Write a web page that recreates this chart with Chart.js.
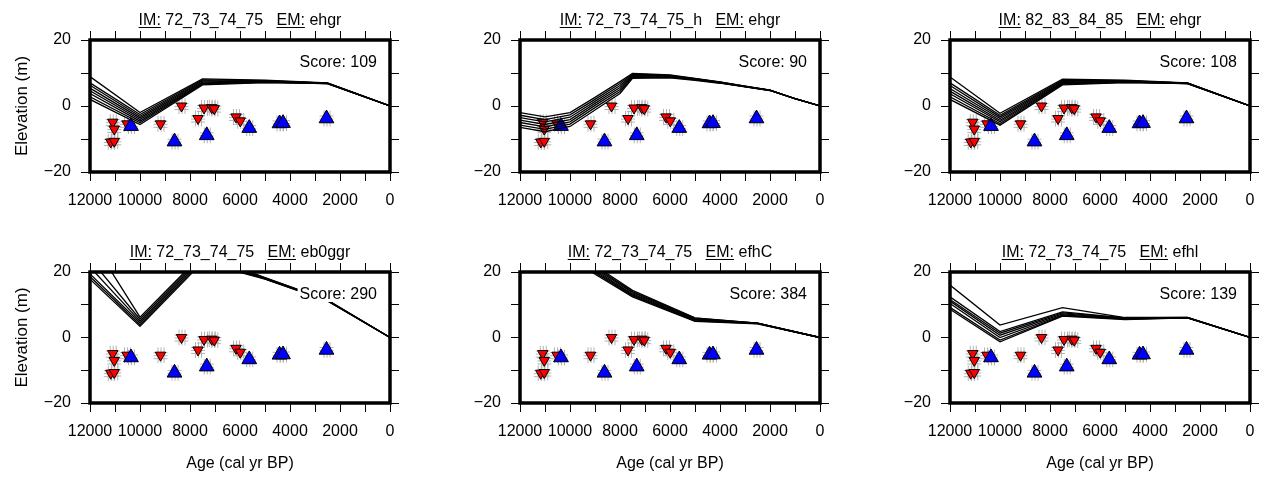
<!DOCTYPE html>
<html>
<head>
<meta charset="utf-8">
<script src="https://cdn.jsdelivr.net/npm/chart.js@4.4.0/dist/chart.umd.min.js"></script>
<style>
  body { margin: 0; background: #fff; width: 1266px; height: 477px; position: relative; overflow: hidden; }
  canvas { position: absolute; }
</style>
</head>
<body>
<canvas id="p0"></canvas>
<canvas id="p1"></canvas>
<canvas id="p2"></canvas>
<canvas id="p3"></canvas>
<canvas id="p4"></canvas>
<canvas id="p5"></canvas>
<script>
// observed sea-level points, the same in every panel
const fallAges = [11090, 11030, 11170, 11030, 10520, 9180, 8340, 7680, 7440, 7130, 7030, 6160, 5990];
const fallElev = [-4.9, -7.0, -10.9, -10.7, -5.4, -5.4, 0.0, -3.8, -0.6, -0.5, -0.8, -3.3, -4.5];
const riseAges = [10360, 8620, 7330, 5630, 4420, 4280, 2540];
const riseElev = [-6.1, -10.8, -8.9, -6.7, -5.3, -5.2, -3.8];
const ageErr = 280;
const elevErr = 2.4;

// panel labels
const panelIM = ['72_73_74_75', '72_73_74_75_h', '82_83_84_85', '72_73_74_75', '72_73_74_75', '72_73_74_75'];
const panelEM = ['ehgr', 'ehgr', 'ehgr', 'eb0ggr', 'efhC', 'efhl'];
const panelScore = [109, 90, 108, 290, 384, 139];

// model ages
const modelAges = [12000, 10000, 7500, 5000, 2500, 0];
const modelAgesFine = [12000, 11000, 10000, 9000, 8000, 7500, 6000, 5000, 4000, 3000, 2000, 1000, 0];

// model curves (one row per curve)
const curvesA = [
  [8.9, -2.0, 8.2, 7.8, 7.0, 0],
  [7.0, -2.6, 7.9, 7.7, 6.95, 0],
  [6.3, -3.1, 7.6, 7.6, 6.9, 0],
  [5.4, -3.6, 7.3, 7.5, 6.9, 0],
  [4.6, -4.1, 7.0, 7.4, 6.85, 0],
  [3.8, -4.6, 6.8, 7.3, 6.8, 0],
  [2.8, -5.1, 6.6, 7.2, 6.8, 0],
  [2.0, -5.6, 6.4, 7.1, 6.75, 0]
];
const curvesB = [
  [-2.0, -3.3, -2.0, 2.6, 7.4, 9.9, 9.4, 8.4, 7.3, 6.0, 4.8, 2.2, 0],
  [-2.8, -4.1, -2.7, 2.0, 6.8, 9.7, 9.3, 8.3, 7.25, 6.0, 4.8, 2.2, 0],
  [-3.5, -4.8, -3.4, 1.4, 6.2, 9.4, 9.1, 8.2, 7.2, 5.95, 4.8, 2.2, 0],
  [-4.3, -5.6, -4.1, 0.8, 5.6, 9.2, 9.0, 8.1, 7.1, 5.9, 4.75, 2.2, 0],
  [-5.0, -6.3, -4.8, 0.2, 5.0, 8.9, 8.8, 8.0, 7.05, 5.9, 4.75, 2.2, 0],
  [-5.8, -7.1, -5.5, -0.5, 4.4, 8.7, 8.7, 7.9, 7.0, 5.85, 4.7, 2.2, 0],
  [-6.5, -7.8, -6.2, -1.2, 3.8, 8.4, 8.5, 7.8, 6.9, 5.8, 4.7, 2.2, 0]
];
const curvesC = [
  [8.8, -2.2, 8.1, 7.8, 7.0, 0],
  [7.0, -2.8, 7.8, 7.7, 6.95, 0],
  [6.2, -3.3, 7.5, 7.6, 6.9, 0],
  [5.3, -3.8, 7.2, 7.5, 6.9, 0],
  [4.5, -4.3, 7.0, 7.4, 6.85, 0],
  [3.7, -4.8, 6.8, 7.3, 6.8, 0],
  [2.8, -5.3, 6.6, 7.2, 6.8, 0],
  [2.0, -5.8, 6.4, 7.1, 6.75, 0]
];
const curvesD = [
  [17.8, 3.4, 23.0, 17.8, 11.2, 0],
  [18.6, 3.9, 23.5, 17.9, 11.2, 0],
  [19.4, 4.5, 24.0, 18.0, 11.3, 0],
  [21.5, 5.0, 24.5, 18.1, 11.3, 0],
  [24.0, 5.6, 25.0, 18.2, 11.4, 0],
  [30.5, 6.2, 25.5, 18.3, 11.4, 0]
];
const curvesE = [
  [30, 24.0, 12.4, 4.9, 4.2, 0],
  [31, 24.5, 12.7, 5.1, 4.25, 0],
  [32, 25.0, 13.0, 5.3, 4.3, 0],
  [33, 25.5, 13.3, 5.5, 4.3, 0],
  [34, 26.0, 13.7, 5.7, 4.35, 0],
  [35, 26.5, 14.0, 5.9, 4.4, 0],
  [36, 27.0, 14.4, 6.0, 4.4, 0]
];
const curvesF = [
  [16.0, 3.8, 9.1, 6.1, 6.1, 0],
  [12.4, 1.8, 7.8, 6.0, 6.1, 0],
  [11.6, 1.3, 7.5, 5.9, 6.05, 0],
  [11.1, 0.7, 7.2, 5.8, 6.05, 0],
  [10.4, 0.0, 6.9, 5.7, 6.0, 0],
  [9.2, -0.8, 6.7, 5.6, 6.0, 0],
  [8.6, -1.3, 6.5, 5.5, 6.0, 0]
];
const panelCurves = [curvesA, curvesB, curvesC, curvesD, curvesE, curvesF];
const panelCurveAges = [modelAges, modelAgesFine, modelAges, modelAges, modelAges, modelAges];

const FONT = '"Liberation Sans", Arial, Helvetica, sans-serif';

function toPoints(xs, ys) {
  return xs.map((x, i) => ({ x: x, y: ys[i] }));
}

function minusLabel(v) {
  return v < 0 ? '\u2212' + (-v) : String(v);
}

// grey error crosses under the symbols
const errorBars = {
  id: 'errorBars',
  beforeDatasetsDraw(chart) {
    const ctx = chart.ctx, xs = chart.scales.x, ys = chart.scales.y;
    const ages = fallAges.concat(riseAges), elevs = fallElev.concat(riseElev);
    ctx.save();
    ctx.strokeStyle = '#b4b4b4';
    ctx.lineWidth = 1;
    for (let i = 0; i < ages.length; i++) {
      const px = xs.getPixelForValue(ages[i]);
      const py = ys.getPixelForValue(elevs[i]);
      const dx = Math.abs(xs.getPixelForValue(ages[i] + ageErr) - px);
      const dy = Math.abs(ys.getPixelForValue(elevs[i] + elevErr) - py);
      ctx.beginPath();
      [-3, 0, 3].forEach(o => {
        ctx.moveTo(px + o + 0.5, py - dy); ctx.lineTo(px + o + 0.5, py + dy);
        ctx.moveTo(px - dx, py + o + 0.5); ctx.lineTo(px + dx, py + o + 0.5);
      });
      ctx.stroke();
    }
    ctx.restore();
  }
};

// score label with white box, frame and panel title
const decorations = {
  id: 'decorations',
  afterDatasetsDraw(chart, args, opts) {
    const ctx = chart.ctx, a = chart.chartArea;
    ctx.save();
    ctx.font = '16px ' + FONT;
    const txt = 'Score: ' + opts.score;
    const w = ctx.measureText(txt).width;
    const xr = a.right - 13, yb = a.top + 27;
    ctx.fillStyle = '#fff';
    ctx.fillRect(xr - w - 2, yb - 13, w + 4, 16);
    ctx.fillStyle = '#000';
    ctx.textAlign = 'right';
    ctx.textBaseline = 'alphabetic';
    ctx.fillText(txt, xr, yb);
    ctx.restore();
  },
  afterDraw(chart, args, opts) {
    const ctx = chart.ctx, a = chart.chartArea;
    ctx.save();
    ctx.strokeStyle = '#000';
    ctx.lineWidth = 3.5;
    ctx.strokeRect(a.left, a.top, a.right - a.left, a.bottom - a.top);
    // title: underlined keys
    ctx.font = '16px ' + FONT;
    ctx.fillStyle = '#000';
    ctx.textAlign = 'left';
    ctx.textBaseline = 'alphabetic';
    const parts = [['IM:', true], [' ' + opts.im + '   ', false], ['EM:', true], [' ' + opts.em, false]];
    const total = parts.reduce((s, p) => s + ctx.measureText(p[0]).width, 0);
    let x = (a.left + a.right) / 2 - total / 2;
    const y = a.top - 15;
    ctx.lineWidth = 1;
    parts.forEach(p => {
      const pw = ctx.measureText(p[0]).width;
      ctx.fillText(p[0], x, y);
      if (p[1]) {
        ctx.beginPath();
        ctx.moveTo(x, y + 2.5); ctx.lineTo(x + pw, y + 2.5);
        ctx.stroke();
      }
      x += pw;
    });
    ctx.restore();
  }
};

function makePanel(i) {
  const col = i % 3, row = Math.floor(i / 3);
  const canvas = document.getElementById('p' + i);
  const cw = 406, ch = row ? 245 : 217;
  const plotH = row ? 131 : 132;
  canvas.width = cw; canvas.height = ch;
  canvas.style.left = [0, 430, 860][col] + 'px';
  canvas.style.top = [0, 232][row] + 'px';
  canvas.style.width = cw + 'px'; canvas.style.height = ch + 'px';

  const datasets = [];
  panelCurves[i].forEach(c => {
    datasets.push({
      data: toPoints(panelCurveAges[i], c),
      showLine: true, pointRadius: 0, borderColor: '#000', backgroundColor: '#000',
      borderWidth: 1.3, order: 0
    });
  });
  datasets.push({
    data: toPoints(riseAges, riseElev),
    pointStyle: 'triangle', pointRadius: 8.5, backgroundColor: '#0000ff',
    borderColor: '#000', borderWidth: 1, order: 1
  });
  datasets.push({
    data: toPoints(fallAges, fallElev),
    pointStyle: 'triangle', rotation: 180, pointRadius: 6, backgroundColor: '#ff0000',
    borderColor: '#000', borderWidth: 1, order: 2
  });

  const tickFont = { family: FONT, size: 16 };
  const grid = { drawOnChartArea: false, drawTicks: true, tickLength: 9, color: '#000', lineWidth: 1 };

  new Chart(canvas.getContext('2d'), {
    type: 'scatter',
    data: { datasets: datasets },
    options: {
      responsive: false,
      animation: false,
      events: [],
      layout: { padding: 0 },
      plugins: {
        legend: { display: false },
        tooltip: { enabled: false },
        decorations: { im: panelIM[i], em: panelEM[i], score: panelScore[i] }
      },
      scales: {
        x: {
          type: 'linear', position: 'bottom', reverse: true, min: 0, max: 12000,
          ticks: { stepSize: 1000, autoSkip: false, maxRotation: 0, padding: 10, color: '#000', font: tickFont,
                   callback: v => (v % 2000 === 0 ? String(v) : '') },
          grid: grid, border: { display: false },
          title: { display: row === 1, text: 'Age (cal yr BP)', color: '#000', font: tickFont, padding: { bottom: 4 } },
          afterFit: s => { s.height = ch - 40 - plotH; }
        },
        x2: {
          type: 'linear', axis: 'x', position: 'top', reverse: true, min: 0, max: 12000,
          ticks: { stepSize: 1000, display: false },
          grid: grid, border: { display: false },
          afterFit: s => { s.height = 40; }
        },
        y: {
          type: 'linear', position: 'left', min: -20, max: 20,
          ticks: { stepSize: 10, padding: 10, color: '#000', font: tickFont,
                   callback: v => (v % 20 === 0 ? minusLabel(v) : '') },
          grid: grid, border: { display: false },
          title: { display: col === 0, text: 'Elevation (m)', color: '#000', font: { family: FONT, size: 17 }, padding: { top: 12 } },
          afterFit: s => { s.width = 90; }
        },
        y2: {
          type: 'linear', axis: 'y', position: 'right', min: -20, max: 20,
          ticks: { stepSize: 10, display: false },
          grid: grid, border: { display: false },
          afterFit: s => { s.width = 16; }
        }
      }
    },
    plugins: [errorBars, decorations]
  });
}

document.addEventListener('DOMContentLoaded', function () {
  for (let i = 0; i < 6; i++) makePanel(i);
});
</script>
</body>
</html>
